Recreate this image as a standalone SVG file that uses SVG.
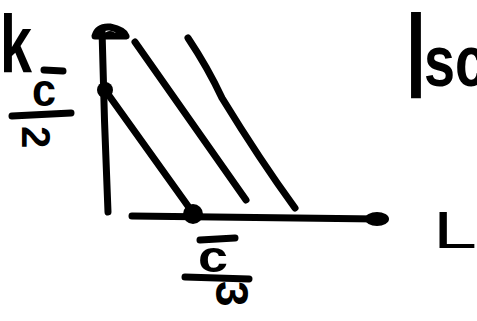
<svg xmlns="http://www.w3.org/2000/svg" width="477" height="321" viewBox="0 0 477 321">
<style>
.ln{fill:none;stroke:#000;stroke-width:7;stroke-linecap:round;stroke-linejoin:round}
.t{font-family:"Liberation Sans",Arial,sans-serif;fill:#000;font-weight:bold}
.n{font-family:"Liberation Sans",Arial,sans-serif;fill:#000}
</style>
<rect width="477" height="321" fill="#fff"/>
<g id="axes">
<path class="ln" d="M102 30 Q104 120 108 212"/>
<path class="ln" d="M132 216 L378 219"/>
<path class="ln" d="M95 36 Q98 26 110 27 Q124 30 126 36 Z" stroke-width="6"/>
<ellipse cx="110" cy="34" rx="5" ry="3" fill="#000"/>
<ellipse cx="377" cy="219" rx="12" ry="7" fill="#000"/>
</g>
<g id="connectors">
<path class="ln" d="M105 90 L193 213"/>
<path class="ln" d="M135 42 L246 200"/>
<path class="ln" d="M188 38 Q208 68 222 98 Q260 160 295 208"/>
</g>
<g id="points">
<circle cx="105" cy="90" r="8"/>
<circle cx="193" cy="214" r="10"/>
</g>
<g id="labels">
<text class="t" x="0" y="72" font-size="82" textLength="32" lengthAdjust="spacingAndGlyphs">k</text>
<path class="ln" d="M44 70 L63 71"/>
<text class="t" x="32" y="106" font-size="46" textLength="24" lengthAdjust="spacingAndGlyphs">c</text>
<path class="ln" d="M12 116 L71 113"/>
<text class="t" x="18" y="156" font-size="40" transform="rotate(90 35 143)">2</text>
<path class="ln" d="M200 240 L235 238"/>
<text class="t" x="198" y="272" font-size="44" textLength="30" lengthAdjust="spacingAndGlyphs">c</text>
<path class="ln" d="M185 277 L249 279"/>
<text class="t" x="207" y="322" font-size="46" transform="rotate(90 232 306)">3</text>
<text class="t" transform="translate(406 98) scale(1 1.3)" font-size="92" textLength="20" lengthAdjust="spacingAndGlyphs">l</text>
<text class="t" x="424" y="86" font-size="72" textLength="62" lengthAdjust="spacingAndGlyphs">sc</text>
<text class="n" x="433" y="248" font-size="52" textLength="44" lengthAdjust="spacingAndGlyphs">L</text>
</g>
</svg>
